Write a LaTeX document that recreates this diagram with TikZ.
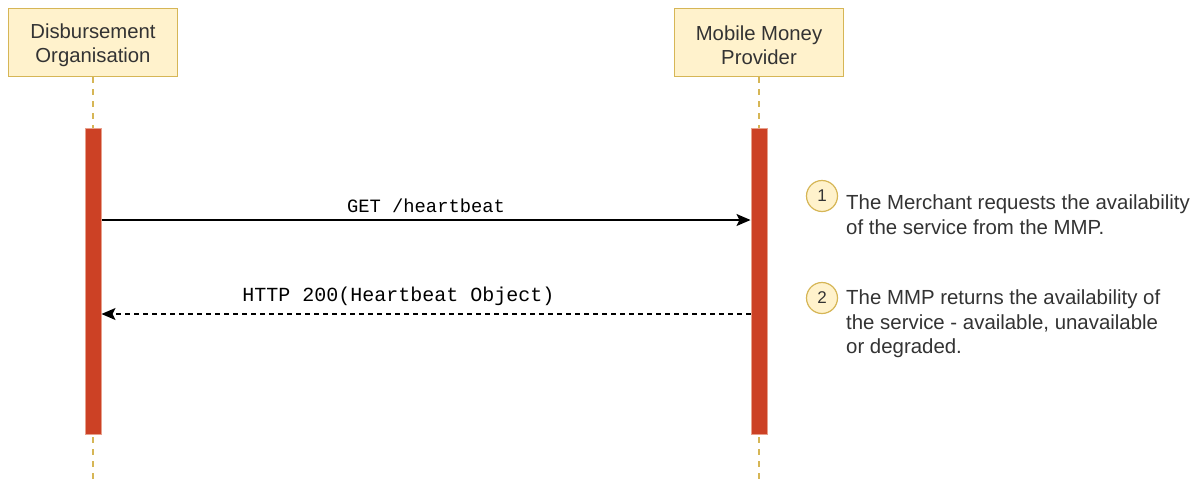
\documentclass[tikz,border=0pt]{standalone}
\usepackage{fontspec}
\setmainfont{Liberation Sans}
\newfontfamily\codefont{Liberation Mono}
\usetikzlibrary{arrows.meta}
\definecolor{actorfill}{HTML}{FFF2CC}
\definecolor{actorline}{HTML}{D6B656}
\definecolor{barfill}{HTML}{CC4125}
\definecolor{barline}{HTML}{E8A08C}
\definecolor{txt}{HTML}{333333}
\tikzset{
  x=1pt, y=-1pt,
  actor/.style={draw=actorline, fill=actorfill, line width=1.2pt,
    minimum width=169pt, minimum height=68pt, inner sep=0pt},
  actortext/.style={align=center, inner sep=0pt,
    font=\fontsize{20.3}{24.3}\selectfont, text=txt},
  lifeline/.style={draw=actorline, line width=1.2pt, dash pattern=on 6pt off 6pt},
  actbar/.style={draw=barline, fill=barfill, line width=1pt,
    minimum width=16pt, minimum height=306pt, inner sep=0pt},
  msg/.style={line width=1.2pt, -{Stealth[length=14pt,width=12pt,inset=3pt]}},
  reply/.style={msg, dash pattern=on 4.5pt off 4.5pt},
  msglabel/.style={text=black, inner sep=0pt},
  stepmark/.style={circle, draw=actorline, fill=actorfill, line width=1.2pt,
    minimum size=31pt, inner sep=0pt, font=\fontsize{17}{20}\selectfont, text=txt},
  note/.style={align=left, anchor=north west, inner sep=0pt,
    font=\fontsize{20.4}{24.6}\selectfont, text=txt}
}
\begin{document}
\begin{tikzpicture}
\useasboundingbox[fill=white] (0,0) rectangle (1198,482);

% participants
\node[actor] (org) at (93,42.5) {};
\node[actortext, yshift=-3pt] (orgtext) at (org) {Disbursement\\Organisation};
\node[actor] (mmp) at (759,42.5) {};
\node[actortext, yshift=-3pt] (mmptext) at (mmp) {Mobile Money\\Provider};

% lifelines
\coordinate (orgend) at (93,482);
\coordinate (mmpend) at (759,482);
\draw[lifeline] (org.south) -- (orgend);
\draw[lifeline] (mmp.south) -- (mmpend);

% activation bars
\node[actbar, anchor=north] (orgbar) at (93,127.5) {};
\node[actbar, anchor=north] (mmpbar) at (759,127.5) {};

% messages
\coordinate (reqA) at (orgbar.east |- 0,220);
\coordinate (reqB) at (mmpbar.west |- 0,220);
\draw[msg] (reqA) -- (reqB);
\node[msglabel, font=\codefont\fontsize{18.8}{22}\selectfont] (reqlabel) at (426,206) {GET /heartbeat};

\coordinate (resA) at (mmpbar.west |- 0,314);
\coordinate (resB) at (orgbar.east |- 0,314);
\draw[reply] (resA) -- (resB);
\node[msglabel, font=\codefont\fontsize{20}{23}\selectfont] (reslabel) at (398.5,296) {HTTP 200(Heartbeat Object)};

% step notes
\node[stepmark] (s1) at (822,196) {1};
\node[note] (n1) at (846,194.5) {The Merchant requests the availability\\of the service from the MMP.};
\node[stepmark] (s2) at (822,298) {2};
\node[note] (n2) at (846,289.5) {The MMP returns the availability of\\the service - available, unavailable\\or degraded.};
\end{tikzpicture}
\end{document}
